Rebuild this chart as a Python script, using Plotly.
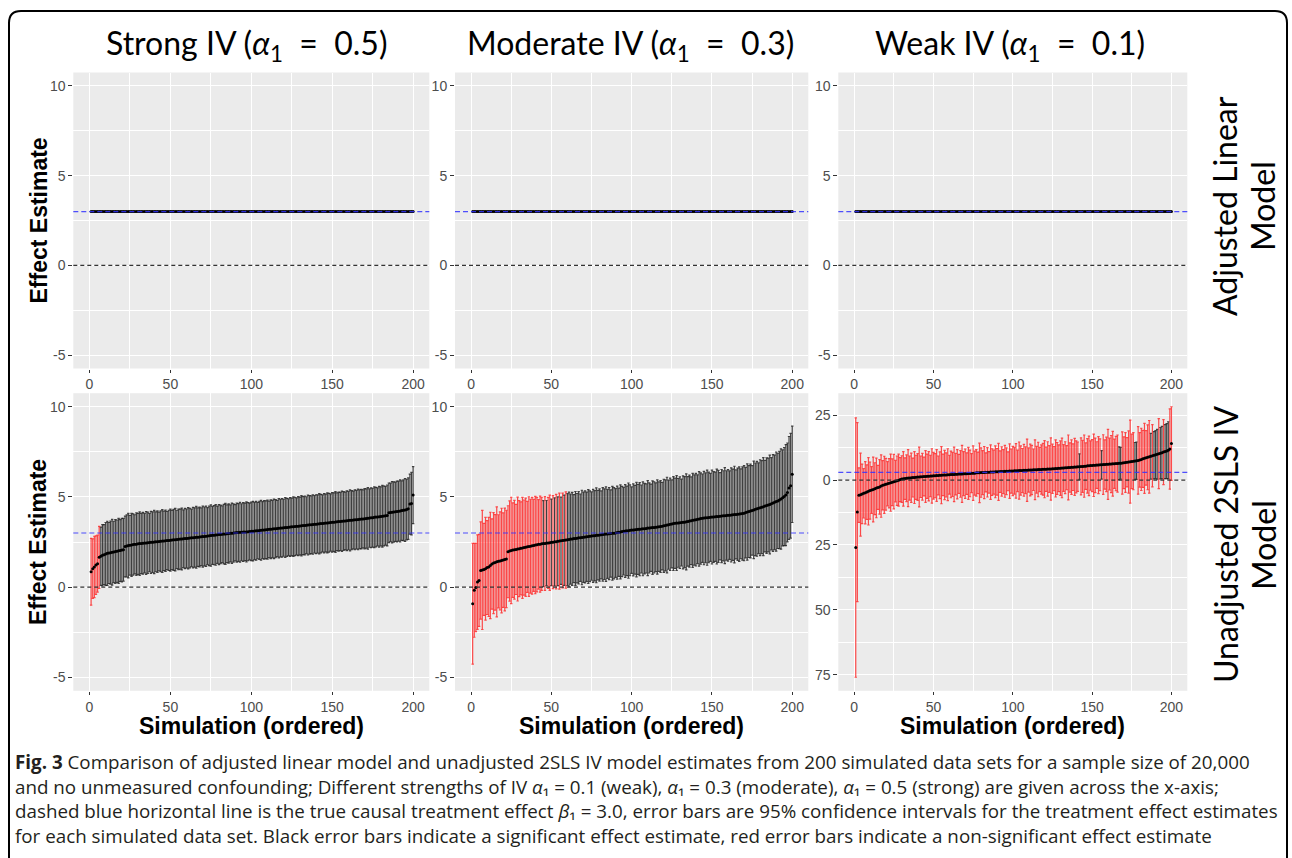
import plotly.graph_objects as go

# ---------------- data ----------------
sims = list(range(1, 201))

# Adjusted linear model: every estimate sits on 3.0 (CIs too narrow to see)
adjusted_est = [
    3.0, 3.0, 3.0, 3.0, 3.0, 3.0, 3.0, 3.0, 3.0, 3.0, 3.0, 3.0, 3.0, 3.0, 3.0, 3.0, 3.0, 3.0, 3.0, 3.0,
    3.0, 3.0, 3.0, 3.0, 3.0, 3.0, 3.0, 3.0, 3.0, 3.0, 3.0, 3.0, 3.0, 3.0, 3.0, 3.0, 3.0, 3.0, 3.0, 3.0,
    3.0, 3.0, 3.0, 3.0, 3.0, 3.0, 3.0, 3.0, 3.0, 3.0, 3.0, 3.0, 3.0, 3.0, 3.0, 3.0, 3.0, 3.0, 3.0, 3.0,
    3.0, 3.0, 3.0, 3.0, 3.0, 3.0, 3.0, 3.0, 3.0, 3.0, 3.0, 3.0, 3.0, 3.0, 3.0, 3.0, 3.0, 3.0, 3.0, 3.0,
    3.0, 3.0, 3.0, 3.0, 3.0, 3.0, 3.0, 3.0, 3.0, 3.0, 3.0, 3.0, 3.0, 3.0, 3.0, 3.0, 3.0, 3.0, 3.0, 3.0,
    3.0, 3.0, 3.0, 3.0, 3.0, 3.0, 3.0, 3.0, 3.0, 3.0, 3.0, 3.0, 3.0, 3.0, 3.0, 3.0, 3.0, 3.0, 3.0, 3.0,
    3.0, 3.0, 3.0, 3.0, 3.0, 3.0, 3.0, 3.0, 3.0, 3.0, 3.0, 3.0, 3.0, 3.0, 3.0, 3.0, 3.0, 3.0, 3.0, 3.0,
    3.0, 3.0, 3.0, 3.0, 3.0, 3.0, 3.0, 3.0, 3.0, 3.0, 3.0, 3.0, 3.0, 3.0, 3.0, 3.0, 3.0, 3.0, 3.0, 3.0,
    3.0, 3.0, 3.0, 3.0, 3.0, 3.0, 3.0, 3.0, 3.0, 3.0, 3.0, 3.0, 3.0, 3.0, 3.0, 3.0, 3.0, 3.0, 3.0, 3.0,
    3.0, 3.0, 3.0, 3.0, 3.0, 3.0, 3.0, 3.0, 3.0, 3.0, 3.0, 3.0, 3.0, 3.0, 3.0, 3.0, 3.0, 3.0, 3.0, 3.0,
]

strong_est = [
    0.85, 1.02, 1.12, 1.22, 1.30, 1.65, 1.71, 1.76, 1.80, 1.84,
    1.87, 1.89, 1.91, 1.93, 1.95, 1.97, 1.99, 2.01, 2.03, 2.05,
    2.07, 2.25, 2.28, 2.30, 2.32, 2.34, 2.36, 2.37, 2.38, 2.40,
    2.41, 2.42, 2.43, 2.44, 2.45, 2.46, 2.47, 2.48, 2.49, 2.50,
    2.51, 2.52, 2.53, 2.54, 2.55, 2.56, 2.57, 2.58, 2.59, 2.60,
    2.61, 2.62, 2.63, 2.64, 2.65, 2.66, 2.67, 2.68, 2.69, 2.70,
    2.71, 2.72, 2.73, 2.74, 2.75, 2.76, 2.77, 2.78, 2.79, 2.80,
    2.81, 2.82, 2.83, 2.84, 2.86, 2.87, 2.88, 2.89, 2.90, 2.91,
    2.92, 2.93, 2.94, 2.95, 2.96, 2.97, 2.98, 2.99, 3.00, 3.01,
    3.02, 3.03, 3.04, 3.04, 3.05, 3.06, 3.06, 3.07, 3.08, 3.09,
    3.10, 3.11, 3.12, 3.13, 3.14, 3.15, 3.16, 3.17, 3.18, 3.19,
    3.20, 3.21, 3.22, 3.23, 3.24, 3.25, 3.26, 3.27, 3.28, 3.29,
    3.30, 3.31, 3.32, 3.33, 3.34, 3.35, 3.36, 3.37, 3.38, 3.39,
    3.40, 3.41, 3.42, 3.43, 3.44, 3.45, 3.46, 3.47, 3.48, 3.49,
    3.50, 3.51, 3.52, 3.53, 3.54, 3.55, 3.56, 3.57, 3.58, 3.59,
    3.60, 3.61, 3.62, 3.63, 3.64, 3.65, 3.66, 3.67, 3.68, 3.69,
    3.70, 3.71, 3.72, 3.73, 3.74, 3.75, 3.76, 3.77, 3.78, 3.79,
    3.80, 3.81, 3.83, 3.84, 3.85, 3.87, 3.88, 3.89, 3.90, 3.92,
    3.93, 3.94, 3.96, 3.97, 4.12, 4.14, 4.15, 4.16, 4.18, 4.19,
    4.21, 4.22, 4.24, 4.26, 4.28, 4.30, 4.35, 4.60, 4.63, 5.10,
]
strong_half = [
    1.85, 1.65, 1.70, 1.62, 1.58, 1.72, 1.62, 1.70, 1.66, 1.74,
    1.78, 1.69, 1.75, 1.82, 1.70, 1.77, 1.73, 1.80, 1.71, 1.76,
    1.74, 1.68, 1.72, 1.79, 1.66, 1.75, 1.70, 1.64, 1.73, 1.69,
    1.76, 1.67, 1.71, 1.65, 1.74, 1.70, 1.62, 1.72, 1.68, 1.75,
    1.66, 1.71, 1.63, 1.69, 1.74, 1.65, 1.70, 1.61, 1.67, 1.72,
    1.64, 1.69, 1.73, 1.62, 1.68, 1.66, 1.71, 1.60, 1.67, 1.63,
    1.70, 1.65, 1.59, 1.68, 1.64, 1.71, 1.62, 1.66, 1.60, 1.69,
    1.63, 1.67, 1.58, 1.65, 1.70, 1.61, 1.64, 1.68, 1.59, 1.66,
    1.62, 1.57, 1.65, 1.69, 1.60, 1.64, 1.58, 1.67, 1.62, 1.56,
    1.64, 1.60, 1.66, 1.58, 1.63, 1.59, 1.67, 1.61, 1.57, 1.62,
    1.65, 1.59, 1.63, 1.56, 1.61, 1.66, 1.58, 1.62, 1.60, 1.64,
    1.57, 1.63, 1.59, 1.65, 1.61, 1.56, 1.64, 1.60, 1.62, 1.58,
    1.66, 1.61, 1.57, 1.63, 1.59, 1.65, 1.62, 1.58, 1.64, 1.60,
    1.67, 1.61, 1.63, 1.58, 1.66, 1.62, 1.60, 1.65, 1.59, 1.63,
    1.61, 1.67, 1.62, 1.58, 1.64, 1.60, 1.66, 1.63, 1.59, 1.65,
    1.62, 1.68, 1.60, 1.64, 1.61, 1.67, 1.63, 1.59, 1.66, 1.62,
    1.69, 1.64, 1.60, 1.66, 1.62, 1.68, 1.63, 1.65, 1.61, 1.67,
    1.64, 1.70, 1.62, 1.66, 1.63, 1.69, 1.65, 1.61, 1.68, 1.64,
    1.71, 1.66, 1.63, 1.69, 1.65, 1.62, 1.70, 1.67, 1.64, 1.68,
    1.66, 1.72, 1.65, 1.69, 1.74, 1.68, 1.71, 1.66, 1.73, 1.58,
]

moderate_est = [
    -0.92, -0.18, -0.02, 0.28, 0.37, 0.92, 0.95, 0.98, 1.02, 1.08,
    1.12, 1.20, 1.28, 1.33, 1.37, 1.40, 1.43, 1.45, 1.47, 1.50,
    1.53, 1.56, 1.96, 2.00, 2.03, 2.05, 2.07, 2.09, 2.11, 2.13,
    2.15, 2.17, 2.19, 2.21, 2.23, 2.25, 2.27, 2.29, 2.31, 2.33,
    2.35, 2.37, 2.38, 2.40, 2.41, 2.42, 2.44, 2.45, 2.46, 2.48,
    2.49, 2.51, 2.52, 2.54, 2.55, 2.57, 2.58, 2.60, 2.61, 2.63,
    2.64, 2.66, 2.67, 2.69, 2.70, 2.71, 2.73, 2.74, 2.75, 2.76,
    2.78, 2.79, 2.80, 2.82, 2.83, 2.84, 2.85, 2.87, 2.88, 2.89,
    2.90, 2.92, 2.93, 2.94, 2.95, 2.96, 2.97, 2.98, 2.99, 3.00,
    3.02, 3.04, 3.06, 3.08, 3.10, 3.11, 3.12, 3.13, 3.15, 3.16,
    3.17, 3.18, 3.19, 3.20, 3.21, 3.22, 3.23, 3.24, 3.25, 3.27,
    3.28, 3.29, 3.30, 3.31, 3.32, 3.33, 3.35, 3.36, 3.38, 3.40,
    3.42, 3.44, 3.46, 3.48, 3.50, 3.52, 3.54, 3.55, 3.56, 3.57,
    3.58, 3.59, 3.60, 3.62, 3.64, 3.66, 3.68, 3.70, 3.72, 3.74,
    3.76, 3.78, 3.80, 3.82, 3.83, 3.84, 3.85, 3.86, 3.87, 3.88,
    3.89, 3.90, 3.91, 3.92, 3.93, 3.94, 3.95, 3.96, 3.97, 3.98,
    3.99, 4.00, 4.01, 4.02, 4.03, 4.04, 4.05, 4.06, 4.08, 4.10,
    4.13, 4.16, 4.19, 4.22, 4.25, 4.28, 4.31, 4.34, 4.37, 4.40,
    4.43, 4.46, 4.49, 4.52, 4.55, 4.58, 4.62, 4.66, 4.70, 4.74,
    4.78, 4.83, 4.88, 4.95, 5.02, 5.10, 5.25, 5.50, 5.62, 6.25,
]
moderate_half = [
    3.35, 2.60, 2.45, 2.62, 2.55, 2.70, 3.30, 2.55, 2.85, 2.60,
    2.75, 2.95, 2.50, 2.80, 2.65, 3.05, 2.58, 2.72, 2.90, 2.62,
    2.85, 2.70, 2.55, 2.78, 2.95, 2.62, 2.74, 2.50, 2.88, 2.66,
    2.58, 2.80, 2.64, 2.72, 2.52, 2.76, 2.60, 2.68, 2.55, 2.70,
    2.62, 2.48, 2.66, 2.58, 2.38, 2.60, 2.36, 2.52, 2.64, 2.40,
    2.58, 2.44, 2.62, 2.46, 2.66, 2.42, 2.63, 2.50, 2.67, 2.55,
    2.62, 2.50, 2.58, 2.44, 2.60, 2.48, 2.56, 2.42, 2.62, 2.50,
    2.55, 2.47, 2.60, 2.52, 2.45, 2.58, 2.50, 2.63, 2.48, 2.56,
    2.44, 2.59, 2.51, 2.62, 2.47, 2.55, 2.42, 2.60, 2.53, 2.46,
    2.58, 2.45, 2.61, 2.50, 2.43, 2.57, 2.48, 2.64, 2.52, 2.40,
    2.55, 2.46, 2.62, 2.49, 2.58, 2.44, 2.60, 2.51, 2.47, 2.63,
    2.50, 2.42, 2.59, 2.53, 2.46, 2.61, 2.48, 2.55, 2.43, 2.58,
    2.52, 2.65, 2.47, 2.56, 2.44, 2.60, 2.50, 2.63, 2.46, 2.54,
    2.41, 2.58, 2.52, 2.66, 2.48, 2.55, 2.43, 2.61, 2.50, 2.57,
    2.46, 2.62, 2.53, 2.45, 2.59, 2.49, 2.64, 2.51, 2.44, 2.60,
    2.52, 2.47, 2.63, 2.55, 2.42, 2.58, 2.50, 2.66, 2.48, 2.54,
    2.45, 2.61, 2.53, 2.68, 2.47, 2.56, 2.62, 2.49, 2.58, 2.64,
    2.51, 2.67, 2.55, 2.60, 2.48, 2.70, 2.57, 2.63, 2.52, 2.66,
    2.58, 2.72, 2.54, 2.65, 2.60, 2.74, 2.56, 2.68, 2.62, 2.75,
    2.64, 2.70, 2.78, 2.66, 2.72, 2.80, 2.74, 2.85, 2.90, 2.67,
]

weak_est = [
    -26.0, -12.3, -5.8, -5.6, -5.3, -5.1, -4.9, -4.6, -4.3, -4.0,
    -3.8, -3.6, -3.3, -3.0, -2.8, -2.6, -2.3, -2.0, -1.8, -1.6,
    -1.4, -1.2, -1.0, -0.8, -0.6, -0.4, -0.2, 0.0, 0.2, 0.4,
    0.5, 0.6, 0.7, 0.8, 0.8, 0.9, 1.0, 1.0, 1.1, 1.2,
    1.2, 1.3, 1.3, 1.4, 1.4, 1.5, 1.5, 1.6, 1.6, 1.7,
    1.7, 1.8, 1.8, 1.9, 1.9, 2.0, 2.0, 2.0, 2.1, 2.1,
    2.2, 2.2, 2.2, 2.3, 2.3, 2.4, 2.4, 2.4, 2.5, 2.5,
    2.5, 2.6, 2.6, 2.7, 2.7, 2.7, 2.8, 2.8, 2.8, 2.9,
    2.9, 2.9, 3.0, 3.0, 3.0, 3.1, 3.1, 3.1, 3.2, 3.2,
    3.2, 3.3, 3.3, 3.3, 3.4, 3.4, 3.4, 3.5, 3.5, 3.5,
    3.6, 3.6, 3.6, 3.7, 3.7, 3.7, 3.8, 3.8, 3.8, 3.9,
    3.9, 3.9, 4.0, 4.0, 4.0, 4.1, 4.1, 4.1, 4.2, 4.2,
    4.2, 4.3, 4.3, 4.3, 4.4, 4.4, 4.5, 4.5, 4.6, 4.6,
    4.7, 4.7, 4.8, 4.8, 4.9, 4.9, 5.0, 5.0, 5.1, 5.1,
    5.2, 5.2, 5.3, 5.3, 5.4, 5.4, 5.5, 5.5, 5.6, 5.6,
    5.7, 5.7, 5.8, 5.8, 5.9, 5.9, 6.0, 6.0, 6.1, 6.1,
    6.2, 6.2, 6.3, 6.3, 6.4, 6.4, 6.5, 6.5, 6.6, 6.7,
    6.8, 6.9, 7.0, 7.1, 7.2, 7.3, 7.4, 7.5, 7.6, 7.8,
    8.0, 8.2, 8.4, 8.6, 8.8, 9.0, 9.2, 9.4, 9.6, 9.8,
    10.0, 10.2, 10.4, 10.6, 10.8, 11.0, 11.2, 11.5, 12.0, 14.1,
]
weak_half = [
    50.0, 34.5, 10.5, 16.0, 11.5, 9.5, 12.0, 10.5, 13.0, 11.0,
    9.0, 12.5, 10.0, 11.5, 8.5, 10.5, 12.0, 9.5, 11.0, 10.0,
    8.5, 9.5, 11.0, 9.0, 10.5, 8.0, 9.5, 10.0, 8.5, 9.0,
    10.5, 8.0, 9.0, 11.0, 8.5, 9.5, 7.5, 10.0, 8.5, 9.0,
    11.5, 8.0, 9.0, 7.5, 10.0, 8.5, 9.5, 8.0, 10.5, 9.0,
    8.5, 10.0, 7.5, 9.0, 11.0, 8.0, 9.5, 8.5, 10.0, 7.5,
    9.0, 8.5, 10.5, 8.0, 9.5, 7.5, 9.0, 11.0, 8.5, 9.5,
    8.0, 10.0, 9.0, 7.5, 10.5, 8.5, 9.0, 8.0, 11.5, 9.5,
    8.5, 10.0, 7.5, 9.5, 8.0, 10.5, 9.0, 8.5, 10.0, 9.0,
    11.0, 8.0, 9.5, 8.5, 10.0, 9.0, 7.5, 10.5, 8.5, 9.5,
    9.0, 10.5, 8.0, 11.0, 9.5, 8.5, 10.0, 9.0, 12.0, 8.5,
    10.0, 9.5, 8.0, 11.5, 9.0, 10.5, 8.5, 9.5, 10.0, 11.0,
    8.5, 10.5, 9.0, 12.0, 9.5, 8.5, 11.0, 10.0, 9.0, 10.5,
    11.5, 9.0, 10.0, 8.5, 12.5, 9.5, 10.5, 9.0, 11.0, 10.0,
    9.5, 4.9, 11.0, 10.0, 12.0, 9.0, 10.5, 11.5, 9.5, 10.0,
    12.0, 10.5, 9.0, 11.0, 10.0, 5.5, 11.5, 9.5, 10.5, 13.5,
    10.0, 11.0, 12.5, 9.5, 10.5, 11.0, 6.3, 6.1, 12.0, 10.0,
    11.5, 9.5, 12.0, 16.0, 10.5, 11.0, 7.1, 7.2, 13.0, 10.5,
    12.0, 11.0, 13.5, 10.5, 12.5, 14.0, 8.8, 12.0, 9.1, 9.3,
    9.6, 13.5, 9.9, 10.1, 12.5, 10.4, 10.6, 11.0, 15.5, 14.2,
]

NB = "\u00a0"
col_titles = [f"Strong IV (<i>α</i><sub>1</sub>{NB} ={NB} 0.5)",
              f"Moderate IV (<i>α</i><sub>1</sub>{NB} ={NB} 0.3)",
              f"Weak IV (<i>α</i><sub>1</sub>{NB} ={NB} 0.1)"]
row_labels = [["Adjusted Linear", "Model"], ["Unadjusted 2SLS IV", "Model"]]
y_title = "Effect Estimate"
x_title = "Simulation (ordered)"
x_ticks = [0, 50, 100, 150, 200]
x_minor = [25, 75, 125, 175]
y_ticks = [-5, 0, 5, 10]
y_minor = [-2.5, 2.5, 7.5]
weak_ticks = [-75, -50, -25, 0, 25]
weak_tick_text = ["75", "50", "25", "0", "25"]
weak_minor = [-62.5, -37.5, -12.5, 12.5]
true_effect = 3.0
null_effect = 0.0
fixed_limits = [-5, 10]

caption_lines = [
    "<b>Fig. 3</b> Comparison of adjusted linear model and unadjusted 2SLS IV model estimates from 200 simulated data sets for a sample size of 20,000",
    "and no unmeasured confounding; Different strengths of IV <i>α</i>\u2081 = 0.1 (weak), <i>α</i>\u2081 = 0.3 (moderate), <i>α</i>\u2081 = 0.5 (strong) are given across the x-axis;",
    "dashed blue horizontal line is the true causal treatment effect <i>β</i>\u2081 = 3.0, error bars are 95% confidence intervals for the treatment effect estimates",
    "for each simulated data set. Black error bars indicate a significant effect estimate, red error bars indicate a non-significant effect estimate",
]

# ---------------- layout helpers ----------------
W, H = 1292, 858
def px(x):
    return x / W
def py(y):
    return 1 - y / H

col_px = [(73.3, 429.3), (455.0, 808.3), (838.3, 1187.3)]
row_px = [(72.5, 368.5), (393.2, 690.8)]

def expand(lo, hi):
    span = hi - lo
    return [lo - 0.05 * span, hi + 0.05 * span]

panels = [
    (0, 0, adjusted_est, None), (0, 1, adjusted_est, None), (0, 2, adjusted_est, None),
    (1, 0, strong_est, strong_half), (1, 1, moderate_est, moderate_half), (1, 2, weak_est, weak_half),
]

fig = go.Figure()
layout = dict(
    width=W, height=H, margin=dict(l=0, r=0, t=0, b=0),
    paper_bgcolor="white", plot_bgcolor="#EBEBEB", showlegend=False,
)

tick_font = dict(family="Arial, Liberation Sans", size=14, color="#4D4D4D")

for i, (r, c, est, half) in enumerate(panels):
    n = i + 1
    xa = "x" if n == 1 else f"x{n}"
    ya = "y" if n == 1 else f"y{n}"
    x0, x1 = col_px[c]
    y0, y1 = row_px[r]

    if r == 1 and c == 2:
        lows = [e - h for e, h in zip(est, half)]
        highs = [e + h for e, h in zip(est, half)]
        yrange = expand(min(lows), max(highs))
        yt, ytt, ym = weak_ticks, weak_tick_text, weak_minor
    else:
        yrange = expand(*fixed_limits)
        yt, ytt, ym = y_ticks, [str(v) for v in y_ticks], y_minor

    layout["xaxis" if n == 1 else f"xaxis{n}"] = dict(
        domain=[px(x0), px(x1)], anchor=ya, range=[-10, 210],
        tickvals=x_ticks, ticktext=[str(v) for v in x_ticks],
        showgrid=True, gridcolor="white", gridwidth=1.4,
        minor=dict(tickvals=x_minor, showgrid=True, gridcolor="white", gridwidth=0.7),
        ticks="outside", ticklen=3, tickcolor="#333333", tickwidth=1,
        tickfont=tick_font, zeroline=False, showline=False, fixedrange=True,
    )
    layout["yaxis" if n == 1 else f"yaxis{n}"] = dict(
        domain=[py(y1), py(y0)], anchor=xa, range=yrange,
        tickvals=yt, ticktext=ytt,
        showgrid=True, gridcolor="white", gridwidth=1.4,
        minor=dict(tickvals=ym, showgrid=True, gridcolor="white", gridwidth=0.7),
        ticks="outside", ticklen=4, tickcolor="#333333", tickwidth=1,
        tickfont=tick_font, zeroline=False, showline=False, fixedrange=True,
    )

    # reference lines
    fig.add_shape(type="line", xref=f"{xa} domain", yref=ya, x0=0, x1=1,
                  y0=null_effect, y1=null_effect,
                  line=dict(color="#333333", width=1.1, dash="4px,3px"), layer="above")
    fig.add_shape(type="line", xref=f"{xa} domain", yref=ya, x0=0, x1=1,
                  y0=true_effect, y1=true_effect,
                  line=dict(color="rgba(50,50,255,0.85)", width=1.2, dash="5px,3px"), layer="above")

    if half is not None:
        sig = [(s, e, h) for s, e, h in zip(sims, est, half) if e - h > 0]
        non = [(s, e, h) for s, e, h in zip(sims, est, half) if e - h <= 0]
        for group, col in ((sig, "rgba(20,20,20,0.8)"), (non, "rgba(255,30,30,0.8)")):
            if not group:
                continue
            gs, ge, gh = zip(*group)
            fig.add_trace(go.Scatter(
                x=list(gs), y=list(ge), mode="markers",
                marker=dict(size=1, color="rgba(0,0,0,0)"),
                error_y=dict(type="data", symmetric=True, array=list(gh),
                             color=col, thickness=1.2, width=1.2),
                xaxis=xa, yaxis=ya, hoverinfo="skip",
            ))
    fig.add_trace(go.Scatter(
        x=sims, y=est, mode="markers",
        marker=dict(size=3.0, color="black", line=dict(width=0)),
        xaxis=xa, yaxis=ya, hoverinfo="skip",
    ))

annotations = []
title_font = dict(family="Lato, Open Sans", size=32, color="black")
for c, (t, cx) in enumerate(zip(col_titles, [246, 630, 1010])):
    annotations.append(dict(text=t, x=px(cx), y=py(45), xref="paper", yref="paper",
                            xanchor="center", yanchor="middle", showarrow=False, font=title_font))

strip_font = dict(family="Lato, Open Sans", size=32, color="black")
for (l1, l2), cy in zip(row_labels, [206, 545]):
    annotations.append(dict(text=l1, x=px(1225), y=py(cy), xref="paper", yref="paper",
                            xanchor="center", yanchor="middle", textangle=-90,
                            showarrow=False, font=strip_font))
    annotations.append(dict(text=l2, x=px(1263), y=py(cy), xref="paper", yref="paper",
                            xanchor="center", yanchor="middle", textangle=-90,
                            showarrow=False, font=strip_font))

axis_title_font = dict(family="Arial, Liberation Sans", size=23, color="black")
for (y0, y1) in row_px:
    annotations.append(dict(text=f"<b>{y_title}</b>", x=px(38), y=py((y0 + y1) / 2),
                            xref="paper", yref="paper", xanchor="center", yanchor="middle",
                            textangle=-90, showarrow=False, font=axis_title_font))
for (x0, x1) in col_px:
    annotations.append(dict(text=f"<b>{x_title}</b>", x=px((x0 + x1) / 2), y=py(711),
                            xref="paper", yref="paper", xanchor="center", yanchor="top",
                            showarrow=False, font=axis_title_font))

cap_font = dict(family="Open Sans", size=18.8, color="#231F20")
for k, line in enumerate(caption_lines):
    annotations.append(dict(text=line, x=px(13), y=py(762 + 24.6 * k), xref="paper", yref="paper",
                            xanchor="left", yanchor="middle", showarrow=False, font=cap_font))

layout["annotations"] = annotations

# rounded frame around the figure
frame = (f"M {px(9)},{py(880)} L {px(9)},{py(23)} Q {px(9)},{py(11)} {px(21)},{py(11)} "
         f"L {px(1275)},{py(11)} Q {px(1287)},{py(11)} {px(1287)},{py(23)} L {px(1287)},{py(880)}")
fig.update_layout(**layout)
fig.add_shape(type="path", path=frame, xref="paper", yref="paper",
              line=dict(color="black", width=2), layer="above")

fig.write_html("out.html")
